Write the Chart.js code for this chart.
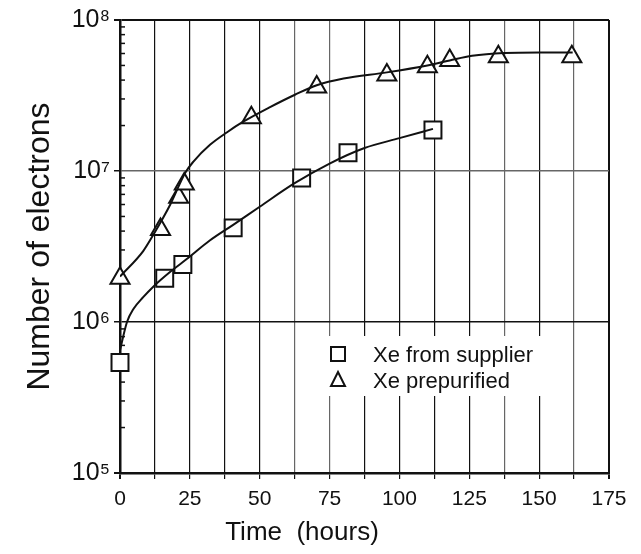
<!DOCTYPE html>
<html>
<head>
<meta charset="utf-8">
<script src="https://cdn.jsdelivr.net/npm/chart.js@4"></script>
<style>
  body { margin: 0; background: #fff; }
  #wrap { width: 641px; height: 554px; }
</style>
</head>
<body>
<div id="wrap"><canvas id="xeChart"></canvas></div>
<script>
// measured points
const supplierHours = [0, 16, 22.5, 40.5, 65, 81.6, 112];
const supplierElectrons = [5.4e5, 1.95e6, 2.4e6, 4.2e6, 9.0e6, 1.32e7, 1.87e7];
const prepurifiedHours = [0, 14.5, 21, 23, 47, 70.4, 95.5, 110, 118, 135.4, 161.7];
const prepurifiedElectrons = [1.95e6, 4.1e6, 6.7e6, 8.2e6, 2.25e7, 3.6e7, 4.32e7, 4.9e7, 5.4e7, 5.7e7, 5.7e7];

// fitted curves
const supplierFitHours = [0, 2.5, 4.8, 8.3, 12, 18, 24, 32, 40.5, 50, 62.5, 75, 87.5, 100, 112];
const supplierFitElectrons = [6.5e5, 1.0e6, 1.22e6, 1.46e6, 1.72e6, 2.15e6, 2.62e6, 3.45e6, 4.4e6, 5.8e6, 8.3e6, 1.12e7, 1.42e7, 1.65e7, 1.9e7];
const prepurifiedFitHours = [0, 8.3, 12, 18, 23.3, 26.2, 32.2, 38.2, 44.1, 53.7, 62.6, 70.4, 80, 95.5, 110, 118, 126, 137.5, 150, 162];
const prepurifiedFitElectrons = [2.0e6, 2.95e6, 3.8e6, 6.0e6, 9.7e6, 1.15e7, 1.49e7, 1.8e7, 2.12e7, 2.65e7, 3.2e7, 3.7e7, 4.1e7, 4.5e7, 5.0e7, 5.4e7, 5.8e7, 6.05e7, 6.1e7, 6.1e7];

const yDecades = [1e5, 1e6, 1e7, 1e8];
const yDecadeLabels = ['10\u2075', '10\u2076', '10\u2077', '10\u2078'];
const lightGridHours = [62.5, 75, 137.5, 162.5];

const toXY = (xs, ys) => xs.map((x, i) => ({ x: x, y: ys[i] }));

const ink = '#111';
const font = "'Liberation Sans', Arial, sans-serif";

// minor log ticks, inset legend and x title
const extras = {
  id: 'extras',
  beforeDatasetsDraw(chart) {
    const ctx = chart.ctx;
    const area = chart.chartArea;
    const y = chart.scales.y;
    ctx.save();
    ctx.strokeStyle = ink;
    ctx.lineWidth = 1.5;
    for (let d = 5; d < 8; d++) {
      for (let m = 2; m < 10; m++) {
        const py = y.getPixelForValue(m * Math.pow(10, d));
        ctx.beginPath();
        ctx.moveTo(area.left, py);
        ctx.lineTo(area.left + 5, py);
        ctx.stroke();
      }
    }

    // legend sits over the grid, under the data
    const lx = area.left + 218;
    const ly = area.top + 334;
    ctx.fillStyle = '#fff';
    ctx.fillRect(lx - 14, ly - 18, 240, 60);
    ctx.lineWidth = 2;
    ctx.strokeRect(lx - 7, ly - 7, 14, 14);
    ctx.beginPath();
    ctx.moveTo(lx, ly + 18);
    ctx.lineTo(lx + 7, ly + 32);
    ctx.lineTo(lx - 7, ly + 32);
    ctx.closePath();
    ctx.stroke();
    ctx.fillStyle = ink;
    ctx.font = '22px ' + font;
    ctx.textAlign = 'left';
    ctx.textBaseline = 'middle';
    ctx.fillText('Xe from supplier', lx + 35, ly + 2);
    ctx.fillText('Xe prepurified', lx + 35, ly + 28);
    ctx.restore();
  },
  afterDraw(chart) {
    const ctx = chart.ctx;
    const area = chart.chartArea;
    ctx.save();
    ctx.fillStyle = ink;
    ctx.font = '26px ' + font;
    ctx.textAlign = 'center';
    ctx.textBaseline = 'middle';
    ctx.fillText('Time  (hours)', area.left + 182, 533);
    ctx.restore();
  }
};

new Chart(document.getElementById('xeChart'), {
  type: 'scatter',
  data: {
    datasets: [
      {
        label: 'Xe from supplier fit',
        data: toXY(supplierFitHours, supplierFitElectrons),
        showLine: true,
        cubicInterpolationMode: 'monotone',
        borderColor: ink,
        borderWidth: 2,
        pointRadius: 0
      },
      {
        label: 'Xe prepurified fit',
        data: toXY(prepurifiedFitHours, prepurifiedFitElectrons),
        showLine: true,
        cubicInterpolationMode: 'monotone',
        borderColor: ink,
        borderWidth: 2,
        pointRadius: 0
      },
      {
        label: 'Xe from supplier',
        data: toXY(supplierHours, supplierElectrons),
        pointStyle: 'rect',
        pointRadius: 12,
        pointBorderWidth: 2,
        borderColor: ink,
        backgroundColor: '#fff',
        clip: false
      },
      {
        label: 'Xe prepurified',
        data: toXY(prepurifiedHours, prepurifiedElectrons),
        pointStyle: 'triangle',
        pointRadius: 11,
        pointBorderWidth: 2,
        borderColor: ink,
        backgroundColor: '#fff',
        clip: false
      }
    ]
  },
  options: {
    responsive: true,
    maintainAspectRatio: false,
    animation: false,
    layout: { padding: { top: 20, right: 32, left: 0, bottom: 0 } },
    plugins: {
      legend: { display: false },
      tooltip: { enabled: false }
    },
    scales: {
      x: {
        type: 'linear',
        min: 0,
        max: 175,
        afterFit: s => { s.height = 81; },
        ticks: {
          stepSize: 12.5,
          color: ink,
          font: { family: font, size: 21 },
          padding: 8,
          maxRotation: 0,
          autoSkip: false,
          callback: v => (v % 25 === 0 ? v : '')
        },
        grid: {
          color: c => (lightGridHours.includes(c.tick && c.tick.value) ? '#666' : '#111'),
          lineWidth: c => (c.tick && (c.tick.value === 175 || c.tick.value === 0) ? 2 : 1.2),
          tickColor: ink,
          tickLength: 6
        },
        border: { color: ink, width: 2.5 }
      },
      y: {
        type: 'logarithmic',
        min: 1e5,
        max: 1e8,
        afterFit: s => { s.width = 120; },
        afterBuildTicks: s => { s.ticks = yDecades.map(v => ({ value: v })); },
        ticks: {
          color: ink,
          font: { family: font, size: 25 },
          padding: 4,
          callback: v => yDecadeLabels[yDecades.indexOf(v)]
        },
        grid: {
          color: c => (c.tick && c.tick.value === 1e7 ? '#666' : '#111'),
          lineWidth: c => (c.tick && (c.tick.value === 1e8 || c.tick.value === 1e5) ? 2 : 1.5),
          tickColor: ink,
          tickLength: 6
        },
        border: { color: ink, width: 2.5 },
        title: {
          display: true,
          text: 'Number of electrons',
          color: ink,
          font: { family: font, size: 32 },
          padding: { top: 21, bottom: 0 }
        }
      }
    }
  },
  plugins: [extras]
});
</script>
</body>
</html>
